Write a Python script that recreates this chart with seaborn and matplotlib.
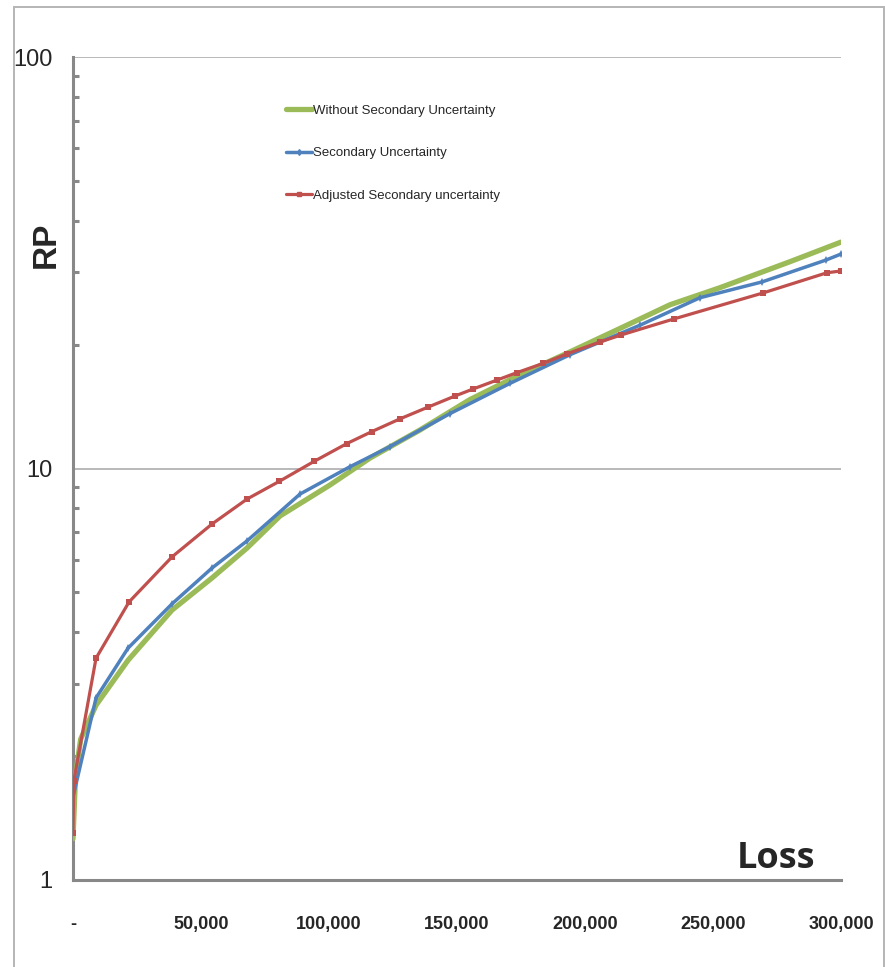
import numpy as np
import pandas as pd
import matplotlib
matplotlib.use("Agg")
import matplotlib.pyplot as plt
import matplotlib.ticker as mticker
from matplotlib.lines import Line2D
from matplotlib.patches import Rectangle
import seaborn as sns

# values
green_loss = [0, 1000, 3000, 9000, 21500, 38700, 54300, 68000, 80900, 100400, 116000,
              135500, 155000, 174600, 194100, 213700, 233200, 252700, 280000, 300000]
green_rp = [1.26, 1.8, 2.2, 2.66, 3.42, 4.53, 5.42, 6.41, 7.67, 9.12, 10.6,
            12.4, 14.7, 16.9, 19.2, 21.9, 25.0, 27.5, 31.8, 35.5]

blue_loss = [0, 9000, 21500, 38700, 54300, 68000, 88700, 108200, 123800, 147300,
             170700, 194100, 221500, 244900, 269100, 294100, 300000]
blue_rp = [1.59, 2.77, 3.66, 4.69, 5.73, 6.67, 8.67, 10.1, 11.3, 13.6,
           16.1, 18.9, 22.3, 26.0, 28.4, 32.1, 33.2]

red_loss = [0, 300, 9000, 21900, 38700, 54300, 68000, 80500, 94100, 107000, 116800,
            127700, 138700, 149200, 156250, 165600, 173400, 183600, 193000, 205900,
            214000, 234800, 269500, 294500, 300000]
red_rp = [1.3, 1.74, 3.46, 4.74, 6.1, 7.33, 8.43, 9.3, 10.4, 11.5, 12.3,
          13.2, 14.1, 15.0, 15.6, 16.4, 17.1, 18.0, 19.0, 20.3,
          21.1, 23.1, 26.7, 29.9, 30.2]

labels = ["Without Secondary Uncertainty", "Secondary Uncertainty", "Adjusted Secondary uncertainty"]
x_ticks = [0, 50000, 100000, 150000, 200000, 250000, 300000]

GREEN = "#9BBB59"
BLUE = "#4F81BD"
RED = "#C0504D"
GREY = "#888888"

sns.set_style("white")
plt.rcParams["font.family"] = ["Liberation Sans", "DejaVu Sans"]

fig = plt.figure(figsize=(8.85, 9.67), dpi=100)
ax = fig.add_axes([73 / 885, 1 - 880 / 967, (841 - 73) / 885, (880 - 57) / 967])

green = pd.DataFrame({"loss": green_loss, "rp": green_rp})
blue = pd.DataFrame({"loss": blue_loss, "rp": blue_rp})
red = pd.DataFrame({"loss": red_loss, "rp": red_rp})

sns.lineplot(data=green, x="loss", y="rp", ax=ax, color=GREEN, lw=3.8, sort=False, zorder=3)
sns.lineplot(data=blue, x="loss", y="rp", ax=ax, color=BLUE, lw=2.5, marker="d",
             markersize=4, markeredgewidth=0, sort=False, zorder=4)
sns.lineplot(data=red, x="loss", y="rp", ax=ax, color=RED, lw=2.3, marker="s",
             markersize=4, markeredgewidth=0, sort=False, zorder=5)

ax.set_yscale("log")
ax.set_ylim(1, 100)
ax.set_xlim(0, 300000)
ax.set_xticks(x_ticks)
ax.xaxis.set_major_formatter(mticker.FuncFormatter(lambda v, p: "-" if v == 0 else f"{int(v):,}"))
ax.yaxis.set_major_formatter(mticker.FuncFormatter(lambda v, p: f"{v:g}"))
ax.yaxis.set_minor_formatter(mticker.NullFormatter())

for s in ["top", "right"]:
    ax.spines[s].set_visible(False)
for s in ["left", "bottom"]:
    ax.spines[s].set_color(GREY)
    ax.spines[s].set_linewidth(2.2)

ax.yaxis.grid(True, which="major", color="#A6A6A6", lw=1.1)
ax.xaxis.grid(False)
ax.tick_params(axis="y", which="major", direction="inout", length=10, width=2.2,
               color=GREY, labelsize=17, pad=10)
ax.tick_params(axis="y", which="minor", direction="in", length=4, width=2.2, color=GREY, left=True)
ax.tick_params(axis="x", which="major", direction="out", length=9, width=1.5, color=GREY,
               labelsize=13, pad=17)
for t in ax.get_xticklabels():
    t.set_fontweight("bold")

ax.set_xlabel("")
ax.set_ylabel("RP", fontsize=24, fontweight="bold")
ax.yaxis.set_label_coords((62 - 73) / (841 - 73), (880 - 245) / (880 - 57))
fig.text(815 / 885, 1 - 868 / 967, "Loss", fontsize=26, fontweight="bold",
         family="Open Sans", ha="right", va="baseline")

handles = [Line2D([], [], color=GREEN, lw=3.8),
           Line2D([], [], color=BLUE, lw=2.5, marker="d", markersize=3),
           Line2D([], [], color=RED, lw=2.3, marker="s", markersize=3)]
ax.legend(handles, labels, loc="upper left", bbox_to_anchor=(279 / 885, 1 - 98 / 967),
          bbox_transform=fig.transFigure, frameon=False, fontsize=9.5,
          handlelength=2.0, handletextpad=0.1, labelspacing=2.3, borderpad=0)

fig.add_artist(Rectangle((14 / 885, -0.1), (884 - 14) / 885, 1.1 - 7 / 967,
                         transform=fig.transFigure, fill=False, edgecolor="#B5B5B5", lw=1.4))

fig.savefig("out.png", dpi=100)
